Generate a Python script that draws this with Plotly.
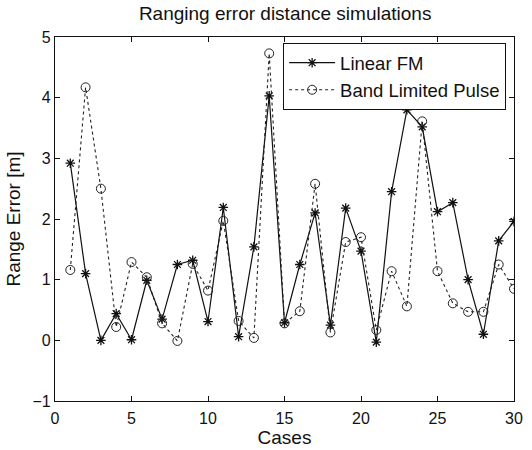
import plotly.graph_objects as go

cases = list(range(1, 31))
linear_fm = [2.92, 1.10, 0.00, 0.44, 0.01, 0.99, 0.35, 1.25, 1.32, 0.31,
             2.19, 0.06, 1.54, 4.03, 0.29, 1.25, 2.10, 0.25, 2.18, 1.47,
             -0.03, 2.45, 3.80, 3.52, 2.12, 2.27, 1.00, 0.10, 1.64, 1.96]
band_limited = [1.16, 4.17, 2.50, 0.22, 1.29, 1.04, 0.28, -0.01, 1.26, 0.82,
                1.97, 0.32, 0.04, 4.73, 0.28, 0.48, 2.58, 0.13, 1.62, 1.70,
                0.17, 1.14, 0.56, 3.61, 1.14, 0.61, 0.47, 0.47, 1.25, 0.85]
x_ticks = [0, 5, 10, 15, 20, 25, 30]
y_ticks = [-1, 0, 1, 2, 3, 4, 5]

font = "Liberation Sans, Arial, sans-serif"
ink = "#111111"

fig = go.Figure()
fig.add_trace(go.Scatter(
    x=cases, y=linear_fm, mode="lines+markers", name="Linear FM",
    line=dict(color=ink, width=1.2),
    marker=dict(symbol="asterisk-open", size=8, color=ink,
                line=dict(color=ink, width=1.3)),
))
fig.add_trace(go.Scatter(
    x=cases, y=band_limited, mode="lines+markers", name="Band Limited Pulse",
    line=dict(color="#222222", width=1.1, dash="dot"),
    marker=dict(symbol="circle-open", size=9, color="#222222",
                line=dict(color="#222222", width=1)),
))

axis_common = dict(
    showgrid=False, zeroline=False, showline=True, linecolor=ink,
    linewidth=1.2, mirror="ticks", ticks="inside", ticklen=5,
    tickcolor=ink, tickfont=dict(family=font, size=16, color=ink),
)
fig.update_xaxes(range=[0, 30], tickvals=x_ticks, ticklabelstandoff=3,
                 title=dict(text="Cases", font=dict(family=font, size=19, color=ink), standoff=0),
                 **axis_common)
fig.update_yaxes(range=[-1, 5], tickvals=y_ticks,
                 title=dict(text="Range Error [m]", font=dict(family=font, size=19, color=ink), standoff=6),
                 **axis_common)

fig.update_layout(
    width=532, height=450,
    margin=dict(l=55, r=9, t=37, b=48),
    plot_bgcolor="white", paper_bgcolor="white",
    title=dict(text="Ranging error distance simulations", x=0.536, xanchor="center",
               yref="container", y=0.971, yanchor="middle",
               font=dict(family=font, size=19, color=ink)),
    legend=dict(x=0.497, y=0.983, xanchor="left", yanchor="top",
                bgcolor="white", bordercolor=ink, borderwidth=1,
                font=dict(family=font, size=18.5, color=ink),
                itemwidth=46, tracegroupgap=0),
    showlegend=True,
)

fig.write_html("out.html")
